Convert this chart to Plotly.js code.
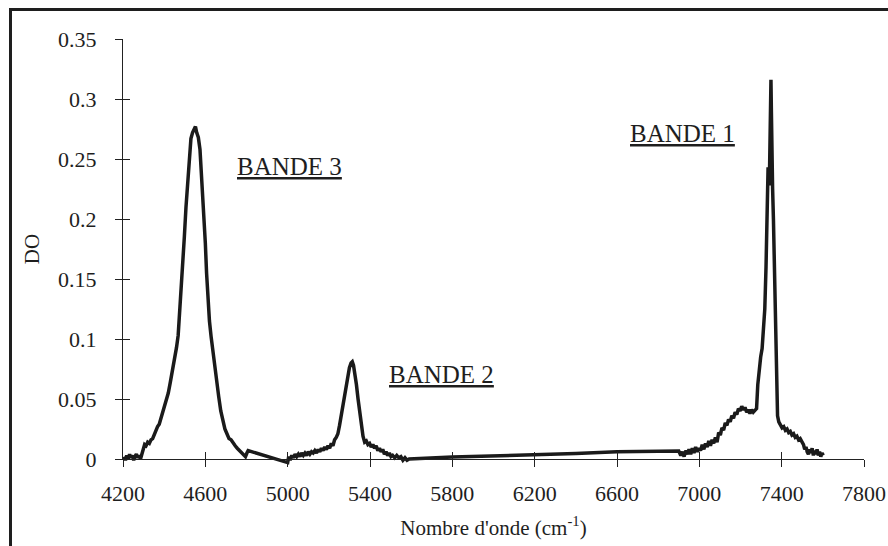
<!DOCTYPE html>
<html>
<head>
<meta charset="utf-8">
<script src="https://cdn.plot.ly/plotly-3.0.1.min.js"></script>
<style>
  html, body { margin: 0; padding: 0; background: #fff; }
  #wrap { position: relative; width: 888px; height: 546px; overflow: hidden; }
  #chart { position: absolute; left: 0; top: 0; width: 888px; height: 546px; }
  #frame { position: absolute; left: 9px; top: 8px; width: 900px; height: 600px;
           border-left: 3px solid #1e1e1e; border-top: 3px solid #1e1e1e; pointer-events: none; }
</style>
</head>
<body>
<div id="wrap">
  <div id="chart"></div>
  <div id="frame"></div>
</div>
<script>
// Wavenumber (cm-1) and optical density (DO)
const wavenumber = [
  4205, 4212, 4218, 4225, 4232, 4238, 4245, 4252, 4258, 4265, 4272, 4278, 4285, 4292, 4298,
  4305, 4312, 4320, 4328, 4336, 4344, 4352, 4360, 4368, 4376, 4384, 4392, 4400, 4410, 4420,
  4430, 4440, 4450, 4460, 4468, 4475, 4482, 4490, 4498, 4506, 4514, 4522, 4530, 4538, 4546,
  4552, 4558, 4566, 4574, 4580, 4587, 4594, 4600, 4606, 4612, 4620, 4628, 4636, 4645, 4655,
  4665, 4675, 4685, 4695, 4705, 4715, 4725, 4735, 4745, 4755, 4765, 4775, 4785, 4795, 4802,
  4808, 5000,
  5005, 5012, 5020, 5028, 5036, 5044, 5052, 5060, 5068, 5076, 5084, 5092, 5100, 5108, 5116,
  5124, 5132, 5140, 5148, 5156, 5164, 5172, 5180, 5188, 5196, 5204, 5212, 5220, 5228, 5236,
  5244, 5252, 5260, 5268, 5276, 5284, 5292, 5300, 5308, 5314, 5320, 5326, 5334, 5342, 5350,
  5358, 5366, 5374, 5382, 5390, 5398, 5406, 5414, 5422, 5430, 5438, 5446, 5454, 5462, 5470,
  5478, 5486, 5494, 5502, 5510, 5520, 5530, 5540, 5550, 5560, 5570, 5580, 5590,
  5800, 6000, 6200, 6400, 6600, 6800, 6900,
  6910, 6918, 6926, 6934, 6942, 6950, 6958, 6966, 6974, 6982, 6990, 6998, 7006, 7014, 7022,
  7030, 7038, 7046, 7054, 7062, 7070, 7078, 7086, 7094, 7102, 7110, 7118, 7126, 7134, 7142,
  7150, 7158, 7166, 7174, 7182, 7190, 7198, 7206, 7214, 7222, 7230, 7238, 7246, 7254, 7262,
  7270, 7278, 7284, 7290, 7298, 7305, 7312, 7318, 7324, 7330, 7334, 7337, 7340, 7343, 7346,
  7348, 7350, 7352, 7356, 7360, 7364, 7368, 7372, 7376, 7380, 7386, 7394, 7402, 7410, 7418,
  7426, 7434, 7442, 7450, 7458, 7466, 7474, 7482, 7490, 7498, 7506, 7512, 7518, 7524, 7530,
  7536, 7542, 7548, 7554, 7560, 7566, 7572, 7578, 7584, 7590, 7596, 7602
];
const absorbance = [
  0.002, -0.001, 0.003, 0.000, 0.004, 0.001, 0.003, -0.001, 0.002, 0.004, 0.001, 0.003, 0.000, 0.004, 0.008,
  0.012, 0.011, 0.014, 0.013, 0.016, 0.017, 0.021, 0.024, 0.027, 0.029, 0.034, 0.038, 0.042, 0.048, 0.055,
  0.064, 0.073, 0.082, 0.093, 0.103, 0.120, 0.140, 0.160, 0.185, 0.210, 0.230, 0.250, 0.267, 0.272, 0.276,
  0.277, 0.272, 0.268, 0.258, 0.240, 0.225, 0.205, 0.180, 0.155, 0.135, 0.115, 0.102, 0.090, 0.077, 0.066,
  0.052, 0.040, 0.031, 0.025, 0.021, 0.017, 0.016, 0.013, 0.011, 0.009, 0.007, 0.006, 0.004, 0.002, 0.005,
  0.007, -0.003,
  0.002, -0.001, 0.003, 0.001, 0.004, 0.002, 0.004, 0.002, 0.005, 0.003, 0.005, 0.003, 0.006, 0.004, 0.006,
  0.005, 0.007, 0.005, 0.008, 0.006, 0.009, 0.007, 0.010, 0.008, 0.011, 0.009, 0.013, 0.011, 0.016, 0.018,
  0.021, 0.028, 0.036, 0.046, 0.055, 0.063, 0.070, 0.076, 0.080, 0.081, 0.078, 0.072, 0.062, 0.050, 0.038,
  0.027, 0.019, 0.014, 0.015, 0.012, 0.013, 0.010, 0.012, 0.009, 0.011, 0.007, 0.009, 0.006, 0.008, 0.004,
  0.006, 0.003, 0.005, 0.002, 0.003, 0.001, 0.003, 0.001, 0.002, -0.001, 0.001, -0.001, 0.000,
  0.0017, 0.0025, 0.003, 0.0045, 0.006, 0.0065, 0.0067,
  0.003, 0.006, 0.002, 0.007, 0.004, 0.008, 0.004, 0.009, 0.005, 0.010, 0.006, 0.009, 0.007, 0.012, 0.008,
  0.013, 0.010, 0.015, 0.011, 0.016, 0.013, 0.018, 0.014, 0.022, 0.020, 0.026, 0.024, 0.030, 0.028, 0.033,
  0.031, 0.036, 0.034, 0.039, 0.037, 0.042, 0.040, 0.044, 0.041, 0.043, 0.039, 0.041, 0.038, 0.041, 0.039,
  0.041, 0.042, 0.062, 0.075, 0.085, 0.092, 0.110, 0.125, 0.160, 0.200, 0.243, 0.235, 0.228, 0.260, 0.300,
  0.316, 0.290, 0.240, 0.225, 0.200, 0.170, 0.120, 0.080, 0.050, 0.036, 0.031, 0.028, 0.026, 0.027, 0.024,
  0.025, 0.022, 0.023, 0.020, 0.021, 0.018, 0.019, 0.016, 0.017, 0.014, 0.012, 0.008, 0.010, 0.006, 0.004,
  0.008, 0.005, 0.009, 0.003, 0.007, 0.004, 0.008, 0.003, 0.006, 0.002, 0.005, 0.003
];

// Band labels and their anchor positions (data coordinates)
const bandLabels = ["BANDE 3", "BANDE 2", "BANDE 1"];
const bandX = [4744, 5483, 6653];
const bandY = [0.244, 0.0708, 0.271];

const xTitle = "Nombre d'onde (cm<sup>-1</sup>)";
const yTitle = "DO";

const FONT = '"Liberation Serif", "Times New Roman", serif';
const INK = '#1e1e1e';

const traces = [
  {
    x: wavenumber, y: absorbance, type: 'scatter', mode: 'lines',
    line: { color: '#1a1a1a', width: 3.5 },
    showlegend: false, hoverinfo: 'skip'
  },
  {
    x: [], y: [], xaxis: 'x2', yaxis: 'y2', type: 'scatter', mode: 'lines',
    showlegend: false, hoverinfo: 'skip'
  }
];

const axisCommon = {
  showgrid: false, zeroline: false, showline: true,
  linecolor: '#222', linewidth: 1,
  ticks: 'outside', ticklen: 7, tickwidth: 1, tickcolor: '#222',
  tickfont: { family: FONT, size: 22, color: INK }
};

const layout = {
  width: 888, height: 546,
  margin: { l: 123, r: 24, t: 39, b: 87 },
  paper_bgcolor: '#fff', plot_bgcolor: '#fff',
  font: { family: FONT, color: INK },
  xaxis: Object.assign({}, axisCommon, {
    range: [4200, 7800], tick0: 4200, dtick: 400,
    ticklabelstandoff: 8,
    title: { text: xTitle, font: { family: FONT, size: 21, color: INK }, standoff: 14 }
  }),
  yaxis: Object.assign({}, axisCommon, {
    range: [0, 0.35], tick0: 0, dtick: 0.05,
    ticklabelstandoff: 14,
    title: { text: yTitle, font: { family: FONT, size: 21, color: INK }, standoff: 12 }
  }),
  xaxis2: {
    overlaying: 'x', matches: 'x', anchor: 'y', side: 'bottom',
    range: [4200, 7800], tick0: 4200, dtick: 400,
    showgrid: false, zeroline: false, showline: false, showticklabels: false,
    ticks: 'inside', ticklen: 7, tickwidth: 1, tickcolor: '#222'
  },
  yaxis2: {
    overlaying: 'y', matches: 'y', anchor: 'x', side: 'left',
    range: [0, 0.35], tick0: 0, dtick: 0.05,
    showgrid: false, zeroline: false, showline: false, showticklabels: false,
    ticks: 'inside', ticklen: 7, tickwidth: 1, tickcolor: '#222'
  },
  annotations: bandLabels.map((t, i) => ({
    text: '<u>' + t + '</u>', x: bandX[i], y: bandY[i], xref: 'x', yref: 'y',
    xanchor: 'left', yanchor: 'middle', showarrow: false,
    font: { family: FONT, size: 25, color: INK }
  }))
};

Plotly.newPlot('chart', traces, layout, { staticPlot: true, displayModeBar: false }).then(() => {
  // let the thick line spill slightly below the zero axis, as in the reference
  document.querySelectorAll('#chart .cartesianlayer [clip-path]').forEach(el => el.removeAttribute('clip-path'));
});
</script>
</body>
</html>
